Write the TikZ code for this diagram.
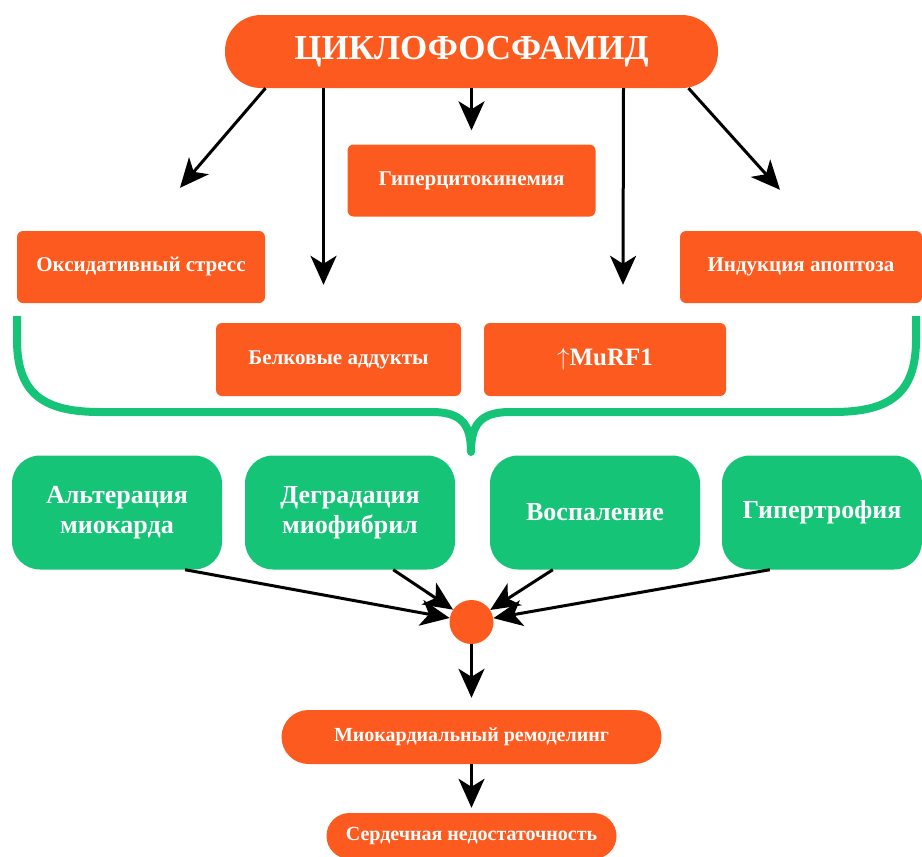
\documentclass[tikz,border=0pt]{standalone}
\usepackage{fontspec}
\setmainfont{Liberation Serif}
\usetikzlibrary{arrows.meta,positioning}

\definecolor{cyclored}{RGB}{252,90,30}
\definecolor{cyclogreen}{RGB}{22,196,120}

\def\causeheight{72pt}
\tikzstyle{cause} = [rectangle,
rounded corners=6pt,
minimum height=\causeheight,
text centered,
text=white,
fill=cyclored,
font=\bfseries\fontsize{21}{24}\selectfont]
\tikzstyle{pill} = [rectangle,
text centered,
text=white,
fill=cyclored,
font=\bfseries\fontsize{20}{24}\selectfont]
\tikzstyle{effect} = [rectangle,
rounded corners=28pt,
minimum width=210pt,
minimum height=114pt,
align=center,
text=white,
fill=cyclogreen,
font=\bfseries\fontsize{26}{30}\selectfont]
\tikzstyle{arr} = [line width=3pt, -{Stealth[length=29pt,width=26pt,inset=8pt]}]

\begin{document}
\begin{tikzpicture}[x=1pt, y=-1pt]
    \useasboundingbox (0,0) rectangle (922,857);
    \node (cyclo) [pill, minimum width=493pt, minimum height=73pt, rounded corners=36pt,
        font=\bfseries\fontsize{35}{40}\selectfont] at (471.5,51.5) {ЦИКЛОФОСФАМИД};
    %%%%%%%%%%%%%%%%%%%%%%%%%%%%%%%%%%%%%%%%
    % Causes
    %%%%%%%%%%%%%%%%%%%%%%%%%%%%%%%%%%%%%%%%
    \node (hyper) [cause, minimum width=248pt] at (471.5,180.5) {Гиперцитокинемия};
    \node (oxid) [cause, minimum width=248pt] at (141,267) {Оксидативный стресс};
    \node (apop) [cause, minimum width=242pt] at (801,267) {Индукция апоптоза};
    \node (adducts) [cause, minimum width=245pt, minimum height=73pt] at (338.5,359.5) {Белковые аддукты};
    \node (murf) [cause, minimum width=242pt, minimum height=73pt,
        font=\bfseries\fontsize{25}{28}\selectfont] at (605,359.5) {$\uparrow$MuRF1};
    % brace
    \draw [cyclogreen, line width=8pt, line join=round]
        (17,316) -- (17,340) .. controls (17,395) and (45,412) .. (100,412) -- (432,412)
        .. controls (462,412) and (471,425) .. (471,452)
        .. controls (471,425) and (480,412) .. (510,412) -- (833,412)
        .. controls (888,412) and (916,395) .. (916,340) -- (916,316);
    %%%%%%%%%%%%%%%%%%%%%%%%%%%%%%%%%%%%%%%%
    % Effects
    %%%%%%%%%%%%%%%%%%%%%%%%%%%%%%%%%%%%%%%%
    \node (alter) [effect] at (117,512.5) {Альтерация\\миокарда};
    \node (degr) [effect] at (350,512.5) {Деградация\\миофибрил};
    \node (infl) [effect] at (595,512.5) {Воспаление};
    \node (hyptr) [effect, minimum width=200pt] at (822,512.5) {Гипертрофия};
    \node (hub) [circle, fill=cyclored, minimum size=44pt, inner sep=0pt] at (471.5,622) {};
    %%%%%%%%%%%%%%%%%%%%%%%%%%%%%%%%%%%%%%%%
    % Outcome
    %%%%%%%%%%%%%%%%%%%%%%%%%%%%%%%%%%%%%%%%
    \node (remod) [pill, minimum width=380pt, minimum height=54pt, rounded corners=27pt] at (471.5,737) {Миокардиальный ремоделинг};
    \node (heart) [pill, minimum width=290pt, minimum height=46pt, rounded corners=23pt] at (471.5,836) {Сердечная недостаточность};
    \draw [arr] ([xshift=-206pt]cyclo.south) -- ([xshift=39pt, yshift=43pt]oxid.north);
    \draw [arr] ([xshift=-148pt]cyclo.south) -- ([xshift=-15pt, yshift=38pt]adducts.north);
    \draw [arr, shorten >=14pt] (cyclo) -- (hyper);
    \draw [arr] ([xshift=152pt]cyclo.south) -- ([xshift=18pt, yshift=38pt]murf.north);
    \draw [arr] ([xshift=217pt]cyclo.south) -- ([xshift=-21pt, yshift=41pt]apop.north);
    \draw [arr] ([xshift=68pt]alter.south) -- (hub);
    \draw [arr] ([xshift=-62pt]degr.south east) -- (hub);
    \draw [arr] ([xshift=63pt]infl.south west) -- (hub);
    \draw [arr] ([xshift=48pt]hyptr.south west) -- (hub);
    \draw [arr, shorten >=12pt] (hub) -- (remod);
    \draw [arr, shorten >=5pt] (remod) -- (heart);
\end{tikzpicture}
\end{document}
